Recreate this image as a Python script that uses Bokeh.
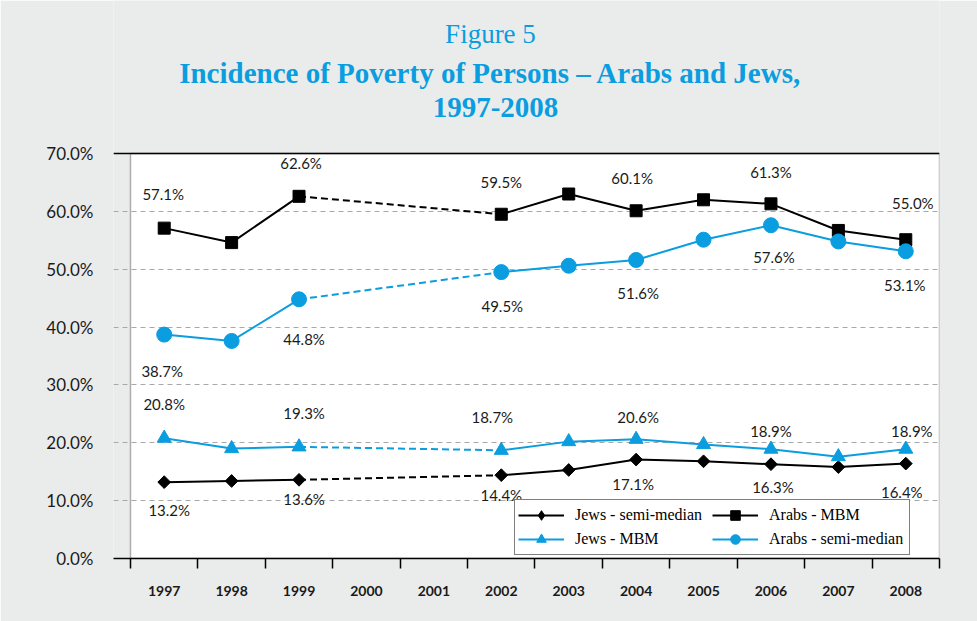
import math
from bokeh.plotting import figure
from bokeh.models import (Range1d, FixedTicker, PrintfTickFormatter, BoxAnnotation, Span,
                          Label, Legend, LegendItem, ColumnDataSource)
from bokeh.core.properties import value
from bokeh.embed import file_html
from bokeh.resources import INLINE

# ---------------- data ----------------
years = [1997, 1998, 1999, 2000, 2001, 2002, 2003, 2004, 2005, 2006, 2007, 2008]
nan = float("nan")
arabs_mbm = [57.1, 54.6, 62.6, nan, nan, 59.5, 63.0, 60.1, 62.0, 61.3, 56.7, 55.1]
arabs_semi = [38.7, 37.6, 44.8, nan, nan, 49.5, 50.6, 51.6, 55.1, 57.6, 54.8, 53.1]
jews_mbm = [20.8, 19.0, 19.3, nan, nan, 18.7, 20.2, 20.6, 19.7, 18.9, 17.6, 18.9]
jews_semi = [13.2, 13.4, 13.6, nan, nan, 14.4, 15.3, 17.1, 16.8, 16.3, 15.8, 16.4]

# data labels shown in the chart (year, text)
arabs_mbm_labels = [(1997, "57.1%"), (1999, "62.6%"), (2002, "59.5%"), (2004, "60.1%"), (2006, "61.3%"), (2008, "55.0%")]
arabs_semi_labels = [(1997, "38.7%"), (1999, "44.8%"), (2002, "49.5%"), (2004, "51.6%"), (2006, "57.6%"), (2008, "53.1%")]
jews_mbm_labels = [(1997, "20.8%"), (1999, "19.3%"), (2002, "18.7%"), (2004, "20.6%"), (2006, "18.9%"), (2008, "18.9%")]
jews_semi_labels = [(1997, "13.2%"), (1999, "13.6%"), (2002, "14.4%"), (2004, "17.1%"), (2006, "16.3%"), (2008, "16.4%")]

y_ticks = [0, 10, 20, 30, 40, 50, 60, 70]
title_lines = ["Figure 5", "Incidence of Poverty of Persons \u2013 Arabs and Jews,", "1997-2008"]

# label pixel offsets (style only)
arabs_mbm_off = [(-1, -34), (2, -33), (0, -32), (-4, -33), (0, -32), (7, -37)]
arabs_semi_off = [(-2, 36), (5, 40), (1, 34), (2, 33), (3, 32), (-1, 34)]
jews_mbm_off = [(0, -34), (5, -34), (-9, -33), (2, -22), (0, -18), (6, -18)]
jews_semi_off = [(5, 28), (5, 19), (0, 20), (-3, 24), (2, 23), (-4, 28)]

BLUE = "#0A9DDF"
BG = "#EAECEB"
xs = list(range(len(years)))
gap_a, gap_b = years.index(1999), years.index(2002)
Y_TOP = max(y_ticks)

# frame spans whole canvas height above the axis; the chart box (0..70) sits in its lower part
PX_PER_UNIT = 405 / Y_TOP
p = figure(width=977, height=621, output_backend="svg", toolbar_location=None,
           x_range=Range1d(-0.5 - 17 / 67.42, len(years) - 0.5),
           y_range=Range1d(0, Y_TOP + 153 / PX_PER_UNIT),
           min_border_left=113, min_border_right=38, min_border_top=0, min_border_bottom=63)
p.title.visible = False
p.background_fill_color = BG
p.border_fill_color = BG
p.outline_line_color = None

p.add_layout(BoxAnnotation(left=-0.5, right=len(years) - 0.5, bottom=0, top=Y_TOP,
                           fill_color="white", fill_alpha=1, line_color=None, level="image"))
p.add_layout(BoxAnnotation(left=-0.5, right=len(years) - 0.5, bottom=0, top=Y_TOP,
                           fill_alpha=0, line_color="black", line_width=1.5))

# grid
p.xgrid.visible = False
p.ygrid.grid_line_color = "#A8A8A8"
p.ygrid.grid_line_dash = "5 4"
p.ygrid.grid_line_width = 1

# y axis
p.yaxis.ticker = FixedTicker(ticks=y_ticks)
p.yaxis.formatter = PrintfTickFormatter(format="%.1f%%")
p.yaxis.axis_line_color = None
p.yaxis.major_tick_out = 0
p.yaxis.major_tick_in = 0
p.yaxis.minor_tick_out = 0
p.yaxis.major_label_standoff = 20
p.yaxis.major_label_text_font = "Lato"
p.yaxis.major_label_text_font_size = "17px"
p.yaxis.major_label_text_color = "#1a1a1a"

# x axis
p.xaxis.ticker = FixedTicker(ticks=xs, minor_ticks=[i - 0.5 for i in range(len(years) + 1)])
p.xaxis.major_label_overrides = {i: str(y) for i, y in enumerate(years)}
p.xaxis.major_tick_out = 0
p.xaxis.major_tick_in = 0
p.xaxis.minor_tick_out = 10
p.xaxis.minor_tick_in = 0
p.xaxis.minor_tick_line_color = "black"
p.xaxis.minor_tick_line_width = 1.5
p.xaxis.axis_line_color = "black"
p.xaxis.axis_line_width = 1.5
p.xaxis.major_label_standoff = 17
p.xaxis.major_label_text_font = "Lato"
p.xaxis.major_label_text_font_size = "14px"
p.xaxis.major_label_text_font_style = "bold"
p.xaxis.major_label_text_color = "#1a1a1a"

# top frame line extends left like the reference
p.add_layout(Span(location=Y_TOP, dimension="width", line_color="black", line_width=1.5))

def series(vals, color, marker, size, angle=0.0):
    ln = p.line(xs, vals, line_color=color, line_width=2)
    p.line([xs[gap_a], xs[gap_b]], [vals[gap_a], vals[gap_b]], line_color=color, line_width=2, line_dash="7 4")
    px = [x for x, v in zip(xs, vals) if not math.isnan(v)]
    pv = [v for v in vals if not math.isnan(v)]
    mk = p.scatter(px, pv, marker=marker, size=size, fill_color=color, line_color=color, angle=angle)
    return ln, mk, px, pv

def labels(vals, lab, off):
    src = ColumnDataSource(dict(
        x=[years.index(y) for y, _ in lab],
        y=[vals[years.index(y)] for y, _ in lab],
        t=[t for _, t in lab],
        dx=[o[0] for o in off],
        dy=[o[1] for o in off]))
    p.text("x", "y", text="t", source=src, x_offset="dx", y_offset="dy",
           text_align="center", text_baseline="middle", text_font=value("Lato"),
           text_font_size="15px", text_color="#1a1a1a")

r_js = series(jews_semi, "black", "square", 9, math.pi / 4)
r_am = series(arabs_mbm, "black", "square", 12)
r_jm = series(jews_mbm, BLUE, "triangle", 14)
r_as = series(arabs_semi, BLUE, "circle", 15)
# legend-only diamond glyph (hidden in the plot; plot uses rotated squares)
js_leg = p.scatter(r_js[2], r_js[3], marker="diamond", size=17, fill_color="black",
                   line_color="black", visible=False)

labels(arabs_mbm, arabs_mbm_labels, arabs_mbm_off)
labels(arabs_semi, arabs_semi_labels, arabs_semi_off)
labels(jews_mbm, jews_mbm_labels, jews_mbm_off)
labels(jews_semi, jews_semi_labels, jews_semi_off)

legend = Legend(items=[
    LegendItem(label="Jews - semi-median", renderers=[r_js[0], js_leg]),
    LegendItem(label="Jews - MBM", renderers=[r_jm[0], r_jm[1]]),
    LegendItem(label="Arabs - MBM", renderers=[r_am[0], r_am[1]]),
    LegendItem(label="Arabs - semi-median", renderers=[r_as[0], r_as[1]]),
], location=(401, 3), ncols=2)
legend.border_line_color = "black"
legend.border_line_width = 1.5
legend.background_fill_color = "white"
legend.background_fill_alpha = 1
legend.padding = 3
legend.margin = 0
legend.spacing = 0
legend.glyph_width = 46
legend.glyph_height = 24
legend.label_height = 24
legend.label_width = 137
legend.label_standoff = 11
legend.label_text_font = "Liberation Serif"
legend.label_text_font_size = "16px"
legend.label_text_color = "black"
p.add_layout(legend)

# titles, placed in screen pixels above the chart box (converted to data units)
def px_to_y(py):
    return Y_TOP + (153 - py) / PX_PER_UNIT

def px_to_x(pxx):
    return -0.5 - 17 / 67.42 + (pxx - 113) / 67.42

for txt, cx, cy, size, style in [(title_lines[0], 490, 33, "27px", "normal"),
                                 (title_lines[1], 490, 72, "29px", "bold"),
                                 (title_lines[2], 495, 107, "29px", "bold")]:
    p.add_layout(Label(x=px_to_x(cx), y=px_to_y(cy), text=txt, text_align="center",
                       text_baseline="middle", text_font="Liberation Serif",
                       text_font_size=size, text_font_style=style, text_color=BLUE))

open("out.html", "w").write(file_html(p, INLINE))
